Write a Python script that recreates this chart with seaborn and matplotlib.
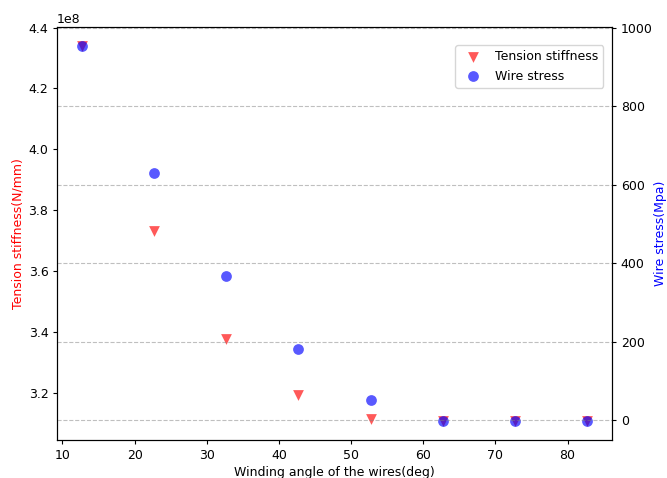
import numpy as np
import pandas as pd
import matplotlib
matplotlib.use("Agg")
import matplotlib.pyplot as plt
import seaborn as sns

plt.rcParams["font.size"] = 9
plt.rcParams["xtick.major.size"] = 3
plt.rcParams["ytick.major.size"] = 3
plt.rcParams["xtick.major.pad"] = 3
plt.rcParams["ytick.major.pad"] = 3
plt.rcParams["axes.labelpad"] = 3

# Datos
winding_angle = [12.7, 22.7, 32.7, 42.7, 52.7, 62.7, 72.7, 82.7]
tension_stiffness = [4.341e8, 3.732e8, 3.377e8, 3.192e8, 3.114e8, 3.106e8, 3.106e8, 3.106e8]
wire_stress = [955, 630, 368, 182, 51, -3, -3, -3]

df = pd.DataFrame({
    "angle": winding_angle,
    "tension": tension_stiffness,
    "stress": wire_stress,
})

fig, ax1 = plt.subplots(figsize=(6.67, 4.78), dpi=100)
fig.subplots_adjust(left=0.085, right=0.918, top=0.944, bottom=0.079)

sns.scatterplot(data=df, x="angle", y="tension", marker="v", color="red",
                alpha=0.65, s=60, linewidth=0, ax=ax1, label="Tension stiffness")
ax1.set_xlabel("Winding angle of the wires(deg)")
ax1.set_ylabel("Tension stiffness(N/mm)", color="red")

ax2 = ax1.twinx()
sns.scatterplot(data=df, x="angle", y="stress", marker="o", color="blue",
                alpha=0.65, s=60, linewidth=0, ax=ax2, label="Wire stress")
ax2.set_ylabel("Wire stress(Mpa)", color="blue", labelpad=1)
ax2.grid(True, axis="y", linestyle="--", color="gray", alpha=0.5)
ax1.grid(False)

# Leyenda combinada
h1, l1 = ax1.get_legend_handles_labels()
h2, l2 = ax2.get_legend_handles_labels()
ax1.get_legend().remove()
ax2.get_legend().remove()
ax2.legend(h1 + h2, l1 + l2, loc="upper right", bbox_to_anchor=(0.995, 0.97))

plt.savefig("out.png", dpi=100)
plt.close()
